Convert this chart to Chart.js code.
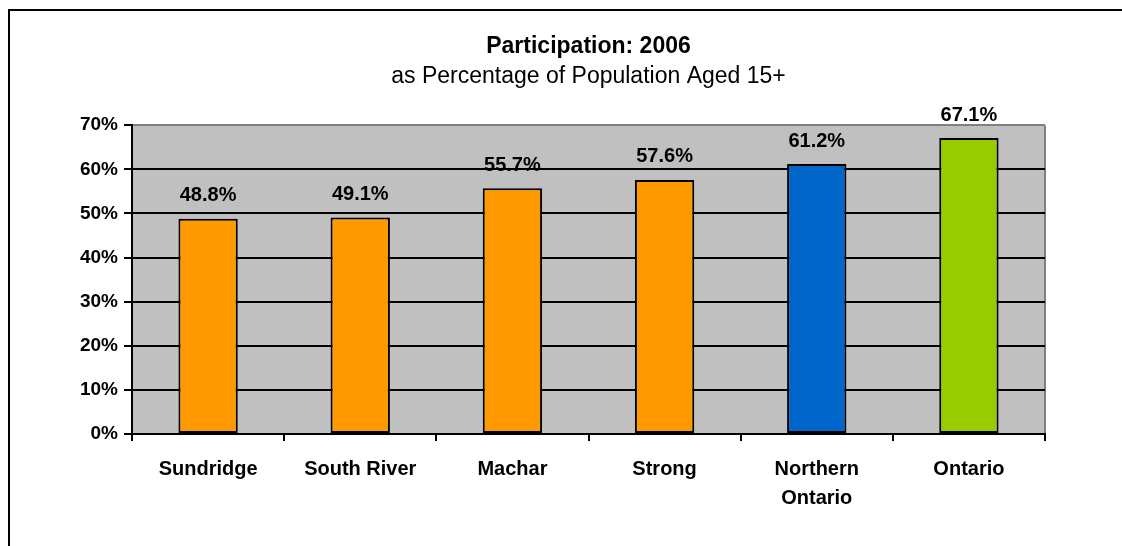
<!DOCTYPE html>
<html>
<head>
<meta charset="utf-8">
<script src="https://cdn.jsdelivr.net/npm/chart.js@4"></script>
<style>
  html, body { margin: 0; padding: 0; background: #fff; }
  #wrap { position: relative; width: 1122px; height: 546px; overflow: hidden; }
  #frame { position: absolute; left: 8px; top: 9px; width: 2000px; height: 2000px;
           border-left: 2px solid #000; border-top: 2px solid #000; }
  canvas { position: absolute; left: 0; top: 0; }
</style>
</head>
<body>
<div id="wrap">
  <div id="frame"></div>
  <canvas id="chart" width="1122" height="546"></canvas>
</div>
<script>
// chart data
const places = ['Sundridge', 'South River', 'Machar', 'Strong', ['Northern', 'Ontario'], 'Ontario'];
const participation = [48.8, 49.1, 55.7, 57.6, 61.2, 67.1];
const barColors = ['#FF9900', '#FF9900', '#FF9900', '#FF9900', '#0066CC', '#99CC00'];
const yTicks = [0, 10, 20, 30, 40, 50, 60, 70];

const font = 'Liberation Sans, Arial, sans-serif';

// gray plot background + gray right edge
const plotBg = {
    id: 'plotBg',
    beforeDraw(chart) {
        const a = chart.chartArea;
        const ctx = chart.ctx;
        ctx.save();
        ctx.fillStyle = '#C0C0C0';
        ctx.fillRect(a.left, a.top, a.right - a.left, a.bottom - a.top);
        ctx.strokeStyle = '#808080';
        ctx.lineWidth = 2;
        ctx.beginPath();
        ctx.moveTo(a.right, a.top);
        ctx.lineTo(a.right, a.bottom);
        ctx.stroke();
        ctx.restore();
    }
};

// value labels above the bars
const valueLabels = {
    id: 'valueLabels',
    afterDatasetsDraw(chart) {
        const ctx = chart.ctx;
        const meta = chart.getDatasetMeta(0);
        ctx.save();
        ctx.font = 'bold 20px ' + font;
        ctx.fillStyle = '#000';
        ctx.textAlign = 'center';
        ctx.textBaseline = 'middle';
        meta.data.forEach((bar, i) => {
            ctx.fillText(participation[i].toFixed(1) + '%', bar.x, bar.y - 23);
        });
        ctx.restore();
    }
};

new Chart(document.getElementById('chart'), {
    type: 'bar',
    data: {
        labels: places,
        datasets: [{
            data: participation,
            backgroundColor: barColors,
            borderColor: '#000',
            borderWidth: 2,
            borderSkipped: false,
            categoryPercentage: 1,
            barPercentage: 0.39
        }]
    },
    options: {
        responsive: false,
        animation: false,
        layout: { padding: { left: 62, right: 77, top: 33, bottom: 32 } },
        plugins: {
            legend: { display: false },
            tooltip: { enabled: false },
            title: {
                display: true,
                fullSize: false,
                text: 'Participation: 2006',
                color: '#000',
                font: { family: font, size: 23, weight: 'bold', lineHeight: 1.2 },
                padding: { top: 0, bottom: 0 }
            },
            subtitle: {
                display: true,
                fullSize: false,
                text: 'as Percentage of Population Aged 15+',
                color: '#000',
                font: { family: font, size: 23, weight: 'normal', lineHeight: 1.2 },
                padding: { top: 2, bottom: 35 }
            }
        },
        scales: {
            x: {
                offset: true,
                grid: {
                    offset: true,
                    drawOnChartArea: false,
                    drawTicks: true,
                    tickLength: 7,
                    tickColor: '#000',
                    lineWidth: 2
                },
                border: { color: '#000', width: 2 },
                ticks: {
                    color: '#000',
                    padding: 14,
                    maxRotation: 0,
                    font: { family: font, size: 20, weight: 'bold', lineHeight: 1.45 }
                },
                afterFit(scale) { scale.height = 80; }
            },
            y: {
                min: 0,
                max: 70,
                afterBuildTicks(scale) { scale.ticks = yTicks.map(v => ({ value: v })); },
                grid: {
                    color: ctx => (ctx.tick && ctx.tick.value === 70 ? '#808080' : '#000'),
                    tickColor: '#000',
                    lineWidth: 2,
                    tickLength: 8
                },
                border: { color: '#000', width: 2 },
                ticks: {
                    color: '#000',
                    padding: 6,
                    font: { family: font, size: 19, weight: 'bold' },
                    callback: v => v + '%'
                },
                afterFit(scale) { scale.width = 70; }
            }
        }
    },
    plugins: [plotBg, valueLabels]
});
</script>
</body>
</html>
